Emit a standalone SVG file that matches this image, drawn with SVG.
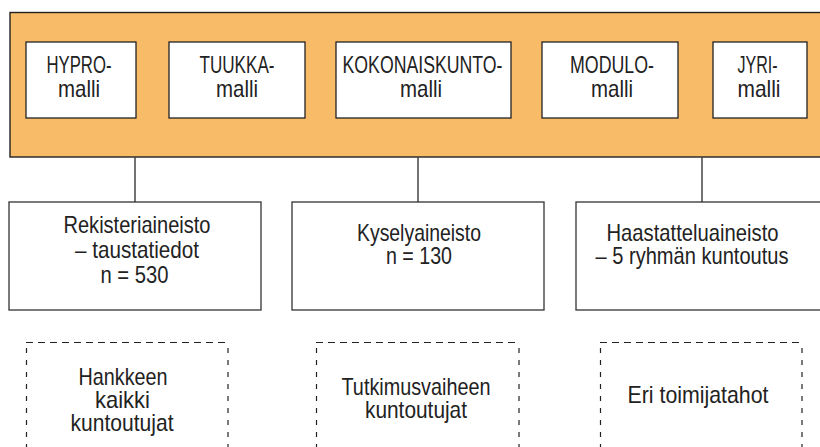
<svg xmlns="http://www.w3.org/2000/svg" width="820" height="447" viewBox="0 0 820 447">
  <style>
    .band { fill: #F8BB68; stroke: #222; stroke-width: 1.4; }
    .model { fill: #fff; stroke: #222; stroke-width: 1.3; }
    .data { fill: #fff; stroke: #333; stroke-width: 1.3; }
    .wire { stroke: #444; stroke-width: 1.5; fill: none; }
    .dash-h { stroke: #222; stroke-width: 1.2; stroke-dasharray: 7 5; fill: none; }
    .dash-v { stroke: #222; stroke-width: 1.2; stroke-dasharray: 5 7; fill: none; }
    text { font-family: "Liberation Sans", Arial, sans-serif; font-size: 24px; fill: #222; text-anchor: middle; }
  </style>

  <!-- orange band holding the rehabilitation models -->
  <rect class="band" x="10" y="12.5" width="830" height="144.5"/>

  <g id="hypro">
    <rect class="model" x="26" y="42" width="110" height="76"/>
    <text x="79" y="72.5" textLength="65" lengthAdjust="spacingAndGlyphs">HYPRO-</text>
    <text x="79" y="97" textLength="42" lengthAdjust="spacingAndGlyphs">malli</text>
  </g>
  <g id="tuukka">
    <rect class="model" x="169" y="42" width="136" height="76"/>
    <text x="237" y="72.5" textLength="75" lengthAdjust="spacingAndGlyphs">TUUKKA-</text>
    <text x="237" y="97" textLength="42" lengthAdjust="spacingAndGlyphs">malli</text>
  </g>
  <g id="kokonaiskunto">
    <rect class="model" x="336" y="42" width="175" height="76"/>
    <text x="422.5" y="72.5" textLength="160" lengthAdjust="spacingAndGlyphs">KOKONAISKUNTO-</text>
    <text x="421" y="97" textLength="42" lengthAdjust="spacingAndGlyphs">malli</text>
  </g>
  <g id="modulo">
    <rect class="model" x="542" y="42" width="136" height="76"/>
    <text x="612" y="72.5" textLength="84" lengthAdjust="spacingAndGlyphs">MODULO-</text>
    <text x="612" y="97" textLength="42" lengthAdjust="spacingAndGlyphs">malli</text>
  </g>
  <g id="jyri">
    <rect class="model" x="713" y="42" width="94" height="76"/>
    <text x="757.5" y="72.5" textLength="40" lengthAdjust="spacingAndGlyphs">JYRI-</text>
    <text x="759" y="97" textLength="43" lengthAdjust="spacingAndGlyphs">malli</text>
  </g>

  <!-- connectors from the band down to the data sets -->
  <g id="connectors">
    <line class="wire" x1="135" y1="157" x2="135" y2="202"/>
    <line class="wire" x1="418" y1="157" x2="418" y2="202"/>
    <line class="wire" x1="702" y1="157" x2="702" y2="202"/>
  </g>

  <g id="rekisteri">
    <rect class="data" x="9" y="202" width="252" height="108"/>
    <text x="137" y="232.5" textLength="147" lengthAdjust="spacingAndGlyphs">Rekisteriaineisto</text>
    <text x="137" y="258" textLength="124" lengthAdjust="spacingAndGlyphs">– taustatiedot</text>
    <text x="134.5" y="283" textLength="68" lengthAdjust="spacingAndGlyphs">n = 530</text>
  </g>
  <g id="kysely">
    <rect class="data" x="292" y="202" width="252" height="108"/>
    <text x="419" y="240.5" textLength="124" lengthAdjust="spacingAndGlyphs">Kyselyaineisto</text>
    <text x="419" y="264" textLength="66" lengthAdjust="spacingAndGlyphs">n = 130</text>
  </g>
  <g id="haastattelu">
    <rect class="data" x="576" y="202" width="260" height="108"/>
    <text x="692.5" y="240.5" textLength="172" lengthAdjust="spacingAndGlyphs">Haastatteluaineisto</text>
    <text x="692" y="264" textLength="193" lengthAdjust="spacingAndGlyphs">– 5 ryhmän kuntoutus</text>
  </g>

  <!-- dashed boxes for the target groups -->
  <g id="hankkeen">
    <path class="dash-h" d="M26 342.5 H228"/>
    <path class="dash-v" d="M26.5 348 V450 M228 348 V450"/>
    <text x="123" y="384.5" textLength="89" lengthAdjust="spacingAndGlyphs">Hankkeen</text>
    <text x="122.5" y="407.5" textLength="55" lengthAdjust="spacingAndGlyphs">kaikki</text>
    <text x="122" y="431" textLength="103" lengthAdjust="spacingAndGlyphs">kuntoutujat</text>
  </g>
  <g id="tutkimusvaihe">
    <path class="dash-h" d="M316 342.5 H519"/>
    <path class="dash-v" d="M316.5 348 V450 M519 348 V450"/>
    <text x="416" y="394.5" textLength="149" lengthAdjust="spacingAndGlyphs">Tutkimusvaiheen</text>
    <text x="416" y="417.5" textLength="102" lengthAdjust="spacingAndGlyphs">kuntoutujat</text>
  </g>
  <g id="toimijat">
    <path class="dash-h" d="M600 342.5 H802"/>
    <path class="dash-v" d="M600.5 348 V450 M802 348 V450"/>
    <text x="698" y="402.5" textLength="141" lengthAdjust="spacingAndGlyphs">Eri toimijatahot</text>
  </g>
</svg>
